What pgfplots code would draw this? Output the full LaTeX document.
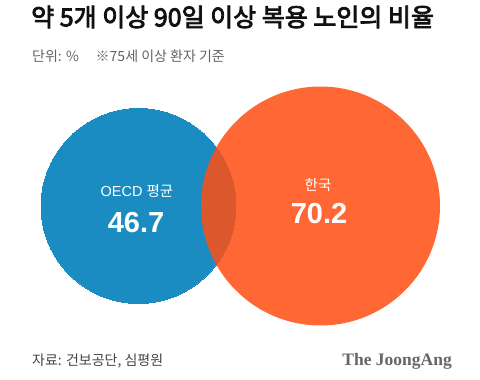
\documentclass[border=0pt]{standalone}
\usepackage{pgfplots}
\pgfplotsset{compat=1.18}
\usepackage{fontspec}
\setmainfont{Liberation Sans}
\newfontfamily\kr{Noto Sans CJK KR}
\newfontfamily\krb{Noto Sans CJK KR}[FakeBold=3.2]
\newfontfamily\logo{Liberation Serif}
\definecolor{oecd}{RGB}{26,140,194}
\definecolor{kor}{RGB}{255,78,18}
\definecolor{titlec}{RGB}{17,17,17}
\definecolor{subc}{RGB}{100,100,100}
\definecolor{srcc}{RGB}{68,68,68}
\definecolor{logoc}{RGB}{102,102,102}
\begin{document}
\begin{tikzpicture}
\useasboundingbox (0,0) rectangle (480pt,380pt);
\begin{axis}[at={(0,0)},anchor=south west,
  width=480pt,height=380pt,scale only axis,
  xmin=0,xmax=480,ymin=0,ymax=380,y dir=reverse,
  hide axis,clip=false]
% value 46.7 (OECD average), value 70.2 (Korea): circle areas proportional
\addplot[only marks,mark=*,mark size=97.5pt,color=oecd,
  mark options={draw=oecd,fill=oecd,line width=0pt}] coordinates {(138.5,206)};
\addplot[only marks,mark=*,mark size=119.5pt,color=kor,
  mark options={draw=kor,draw opacity=0,fill=kor,fill opacity=0.85,line width=0pt}] coordinates {(320.5,206)};
\coordinate (l1) at (axis cs:137,191.5);
\coordinate (v1) at (axis cs:136,222.5);
\coordinate (l2) at (axis cs:318,185);
\coordinate (v2) at (axis cs:319,214);
% titles
\node[anchor=west,inner sep=0pt,text=titlec,font=\fontsize{25}{28}\selectfont\krb] at (axis cs:31,17) {약 5개 이상 90일 이상 복용 노인의 비율};
\node[anchor=west,inner sep=0pt,text=subc,font=\fontsize{14}{16}\selectfont\kr] at (axis cs:32,56) {단위: \%\hspace{1.2em}※75세 이상 환자 기준};
% footer
\node[anchor=west,inner sep=0pt,text=srcc,font=\fontsize{14}{16}\selectfont\kr] at (axis cs:32,361) {자료: 건보공단, 심평원};
\node[anchor=east,inner sep=0pt,text=logoc,font=\fontsize{17.5}{19}\selectfont\logo\bfseries] at (axis cs:452,361) {The JoongAng};
\end{axis}
% circle texts
\node[text=white,font=\fontsize{14.5}{16}\selectfont] at (l1) {OECD {\kr 평균}};
\node[text=white,font=\fontsize{29}{32}\selectfont\bfseries] at (v1) {46.7};
\node[text=white,font=\fontsize{14.5}{16}\selectfont\kr] at (l2) {한국};
\node[text=white,font=\fontsize{29}{32}\selectfont\bfseries] at (v2) {70.2};
\end{tikzpicture}
\end{document}
